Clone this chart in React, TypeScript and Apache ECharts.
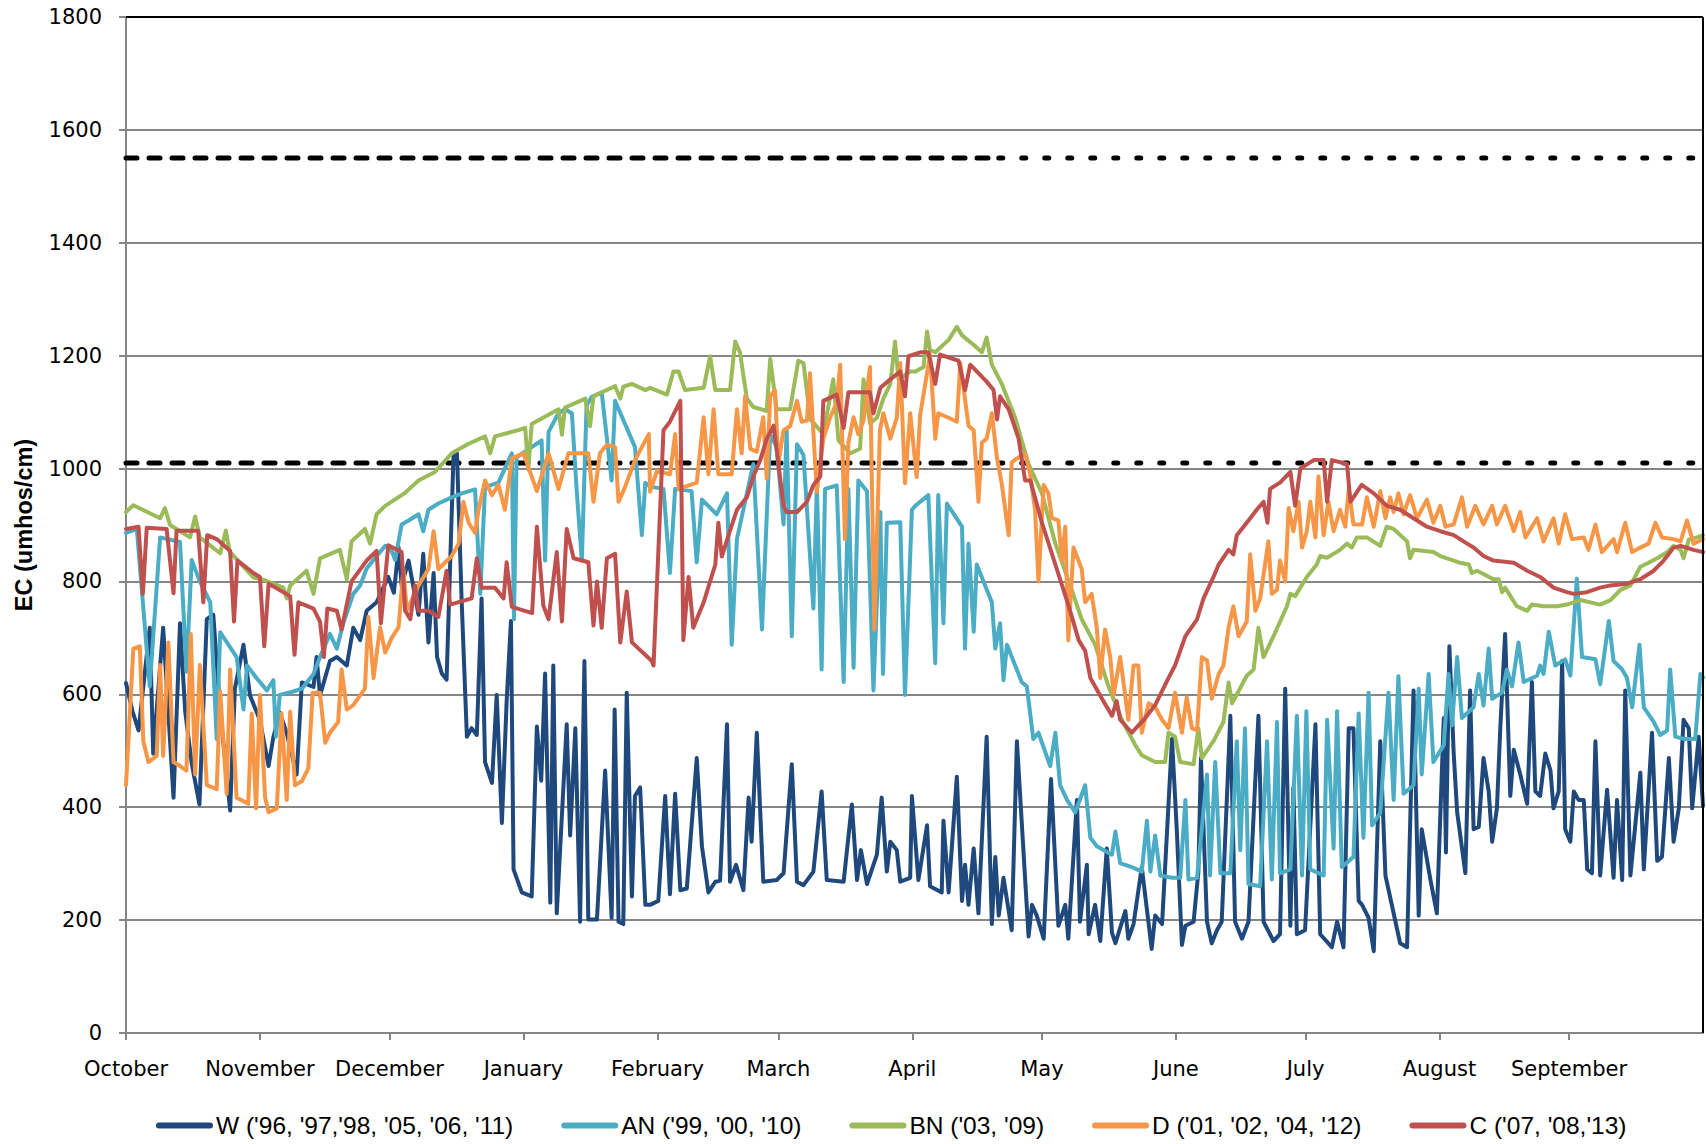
import React, { useEffect, useRef } from "react";
import * as echarts from "echarts";

const MONTHS = ["October", "November", "December", "January", "February", "March", "April", "May", "June", "July", "August", "September"];
const MONTH_START_DAYS = [0, 31, 61, 92, 123, 151, 182, 212, 243, 273, 304, 334];

const SERIES_NAMES = ["W ('96, '97,'98, '05, '06, '11)", "AN ('99, '00, '10)", "BN ('03, '09)", "D ('01, '02, '04, '12)", "C ('07, '08,'13)"];
const SERIES_COLORS = ["#1F497D", "#4BACC6", "#9BBB59", "#F79646", "#C0504D"];

const LIMIT_UPPER = 1550;
const LIMIT_LOWER = 1010;
const LIMIT_SWITCH_DAY = 202;
const YEAR_END_DAY = 365;

const W_DATA: [number, number][] = [
  [0, 620], [1.5, 570], [2.9, 536], [5.5, 718], [6.3, 495], [8.6, 718], [11, 417], [12.5, 726], [13.7, 570], [15.2, 478], [17, 405], [18.7, 733], [20.2, 741], [21.8, 570], [24.1, 394], [25.2, 610], [27.2, 688], [28.7, 598], [31, 554], [33, 473], [34.1, 524], [35.6, 568], [37.2, 531], [39.5, 458], [40.7, 621], [43.4, 613], [44.1, 666], [44.9, 598], [47.2, 659], [48.8, 666], [51.1, 651], [52.6, 718], [54.2, 696], [55.7, 748], [58, 763], [60.7, 808],
  [62, 780], [63.1, 860], [63.8, 793], [65.4, 837], [67.7, 741], [68.8, 849], [70, 692], [71.2, 815], [72, 666], [73.1, 637], [74.2, 626], [75.8, 1023], [76.6, 1027], [77.7, 763], [78.9, 525], [80, 540], [81.2, 528], [82.3, 770], [83.1, 480], [84.7, 443], [85.8, 599], [87, 372], [88.1, 588], [89.1, 730], [89.7, 290], [91.6, 249], [93.9, 242], [95.1, 543], [96.1, 447], [97, 637], [98.2, 231], [98.9, 651], [99.7, 212], [102, 547], [102.8, 350], [104, 540], [105.1, 197], [106.1, 659], [107, 201], [109, 201], [110.9, 465], [112.4, 204], [113.1, 573], [114, 197], [115.1, 193], [115.9, 603], [117.1, 242], [117.8, 420], [119, 435], [120.2, 227],
  [121.3, 227], [123.2, 234], [124.8, 420], [125.9, 246], [127.1, 424], [128.3, 253], [129.8, 256], [132.1, 487], [133.3, 331], [134.8, 249], [136.4, 268], [137.5, 270], [139.1, 547], [139.8, 268], [141.2, 298], [142.9, 253], [144.1, 417], [144.8, 339], [146, 532], [147.5, 268], [150.6, 271], [152.2, 283], [154.1, 476], [155.3, 268], [156.8, 262], [159.1, 286], [161, 428], [162.2, 271], [166.1, 268], [168, 405], [169.2, 271], [170.1, 324], [171.5, 264], [173.8, 316], [174.9, 417], [176.1, 286], [176.9, 339], [178.4, 324], [179.2, 268], [181.5, 275], [181.9, 420],
  [183.4, 271], [185.4, 368], [186.1, 260], [188.8, 249], [189.2, 376], [190.4, 249], [192.3, 454], [193.5, 234], [194.2, 298], [195, 227], [196.2, 327], [197.3, 212], [199.2, 525], [200.4, 193], [201.2, 312], [202, 208], [203.1, 275], [205, 182], [206.2, 517], [208.9, 171], [209.7, 227], [210.8, 208], [212.4, 167], [214.1, 450], [215.8, 190], [217.4, 227], [218.1, 167], [220.1, 413], [220.8, 197], [222.4, 298], [222.8, 175], [224.3, 227], [225.5, 163], [227, 327], [228.2, 178], [229, 159], [231.3, 216], [232, 167], [233.2, 193], [235.1, 294], [237.4, 149], [238.2, 208], [239.8, 193], [242.1, 521], [243.2, 361], [244.4, 156],
  [245.2, 190], [247.1, 197], [248.2, 286], [248.8, 487], [250.2, 197], [251.3, 159], [252.5, 182], [253.6, 197], [255.6, 562], [256.7, 197], [258.3, 167], [259.8, 197], [262.1, 562], [263.3, 197], [265.6, 163], [267.1, 175], [268.3, 610], [269.5, 190], [270.2, 435], [271, 175], [272.9, 182], [275.3, 547], [276.4, 175], [279.1, 152], [280.3, 197], [281.8, 152], [283, 540], [284.1, 540], [285.3, 234], [286.1, 227], [287.6, 204], [288.8, 145], [290.3, 517], [291.5, 279], [294.9, 159], [296.5, 152], [298, 607], [299.2, 208], [299.9, 361], [301.9, 272], [303.4, 212], [305, 558], [305.5, 320], [306.3, 685],
  [307.3, 495], [308.1, 391], [310, 283], [311.1, 607], [311.9, 361], [313.1, 365], [314.2, 487], [315.4, 428], [316.2, 339], [317.3, 398], [318.1, 543], [319.2, 707], [320.4, 420], [321.2, 502], [322.7, 458], [324.3, 406], [325.4, 622], [326.2, 428], [327.3, 420], [328.5, 495], [329.7, 465], [330.4, 398], [331.6, 428], [332.4, 659], [333.1, 361], [334.3, 339], [335.1, 428], [336.2, 413], [337.4, 413], [338.2, 290], [339.3, 283], [340.1, 517], [341.2, 279], [342.8, 431], [344.3, 275], [345.1, 413], [346.3, 271], [347, 607], [348.2, 279], [350.5, 461], [351.3, 290], [353.2, 532], [354.4, 305], [355.5, 312], [357.1, 487], [358.2, 339], [359.4, 398], [360.5, 555], [361.7, 540], [362.5, 398], [364, 525], [365, 402],
];

const AN_DATA: [number, number][] = [
  [0, 886], [2.5, 893], [5.5, 614], [7.9, 878], [12.5, 870], [14, 640], [15.2, 838], [17.1, 800], [19.5, 763], [21, 521], [21.8, 710], [25.6, 666], [27.2, 573], [28, 651], [30.2, 629], [32.6, 607], [34.1, 625], [34.7, 525], [35.6, 599], [38.7, 605], [40.7, 610], [43.4, 636], [44.9, 666], [47.2, 707], [48.8, 681], [50.3, 726], [52.6, 778], [54.2, 793], [55.7, 823], [58, 845],
  [60, 863], [61.2, 860], [62.3, 838], [63.8, 901], [65.4, 908], [67.7, 919], [68.8, 889], [70, 927], [72.3, 938], [75.4, 949], [77.7, 956], [80.8, 963], [82, 778], [83.1, 967], [86.2, 975], [89.3, 1027], [89.8, 733], [90.4, 1020], [93.9, 1038], [96.2, 1050], [97, 837], [97.8, 1065], [100.1, 1098], [101.6, 1105], [103.2, 1098], [104.3, 963], [105.5, 837], [106.6, 1112], [107.8, 1127], [110.1, 1135], [112.4, 979], [113.2, 1120], [117.8, 1038], [119.4, 882], [120.2, 975],
  [121.3, 968], [124.4, 964], [125.9, 815], [127.1, 964], [130.9, 960], [132.1, 834], [133.3, 945], [136.7, 919], [139.1, 956], [140.2, 688], [141.4, 875], [143.7, 956], [145.2, 1008], [147.2, 715], [149.1, 1061], [150.6, 1038], [152.2, 901], [152.9, 1068], [154.1, 703], [155.3, 1043], [156.8, 1024], [159.1, 752], [159.9, 971], [161, 644], [161.8, 964], [164.5, 970], [166.1, 622], [167.2, 964], [168.4, 647], [169.5, 979], [171.5, 960], [173, 607], [174.6, 923], [175.2, 636], [176.1, 904], [179.2, 905], [180.3, 599], [181.9, 927],
  [182.7, 934], [185.7, 953], [187.3, 655], [188, 953], [189.2, 726], [190, 938], [193.5, 897], [194.2, 681], [195, 867], [196.2, 711], [196.9, 830], [200.4, 763], [201.2, 681], [202.3, 726], [203.1, 625], [203.9, 688], [207.3, 622], [208.5, 614], [210, 521], [211.2, 532], [213.9, 473], [215.1, 532], [216.2, 439], [217.8, 413], [219.7, 391], [222, 439], [223.2, 346], [224.7, 331], [228.2, 316], [229, 357], [230.1, 301], [232.8, 294], [235.1, 286], [236.3, 376], [237.1, 286], [238.2, 350], [239.4, 279], [242.1, 275],
  [244, 275], [245.2, 413], [245.9, 272], [247.9, 275], [250.2, 458], [250.9, 279], [252.1, 480], [253.3, 283], [255.6, 283], [257.1, 517], [257.9, 324], [259, 540], [259.8, 264], [262.5, 260], [264.1, 517], [265.2, 272], [266.4, 551], [267.1, 283], [269.5, 290], [271, 562], [272.2, 279], [273.2, 570], [274.1, 290], [277.2, 279], [278, 555], [279.5, 327], [280.3, 570], [281.4, 294], [284.1, 312], [285.3, 566], [286.4, 346], [287.6, 603], [288.4, 368], [290.3, 390], [292.2, 603], [293.4, 413], [294.5, 632], [295.7, 424], [298, 439], [299.2, 610], [299.9, 458], [301.5, 636], [302.6, 480], [305, 510],
  [306.1, 636], [306.9, 545], [308.1, 666], [309.2, 558], [311.9, 577], [313.1, 636], [314.2, 580], [315.4, 681], [316.2, 592], [318.5, 603], [319.6, 644], [320.8, 614], [322.3, 692], [323.5, 622], [326.6, 633], [327.3, 651], [328.1, 636], [329.3, 711], [330.8, 651], [333.1, 662], [334.3, 633], [335.8, 805], [337, 666], [340.1, 662], [341.2, 618], [343.2, 730], [344.3, 659], [346.3, 644], [347.4, 629], [348.6, 577], [350.3, 688], [351.3, 577], [353.6, 551], [355.1, 528], [356.7, 536], [357.4, 644], [358.6, 525], [360.5, 521], [363.2, 521], [364.4, 636], [365, 630],
];

const BN_DATA: [number, number][] = [
  [0, 923], [1.7, 935], [7.9, 912], [9, 930], [10.2, 900], [14.8, 878], [16, 915], [17.1, 878], [21.8, 850], [23.1, 890], [24, 853], [29.5, 807], [31.8, 803], [36.4, 789], [37.2, 770], [38, 793], [41.8, 819], [43.4, 778], [44.9, 841], [49.5, 856], [51.1, 804], [52.2, 871], [55.3, 893], [56.5, 867], [58, 919],
  [60, 934], [64.6, 957], [67.7, 979], [71.5, 994], [75.4, 1027], [79.3, 1044], [83.1, 1057], [84.3, 1027], [85.4, 1057], [90.8, 1068], [92.4, 1072], [93.1, 998], [93.9, 1079], [100.1, 1105], [100.9, 1060], [101.6, 1108], [106.3, 1124], [107.4, 1075], [108.2, 1128], [113.2, 1146], [114.4, 1124], [115.1, 1145], [117.1, 1150], [120.2, 1139],
  [121.3, 1143], [125.2, 1131], [126.7, 1172], [127.9, 1172], [129.4, 1139], [133.7, 1143], [135.2, 1199], [136.4, 1139], [139.8, 1139], [141, 1225], [142.1, 1206], [143.7, 1124], [145.2, 1109], [148.3, 1102], [149.1, 1194], [150.6, 1105], [153.7, 1105], [155.6, 1191], [156.8, 1187], [158.4, 1087], [161.4, 1061], [163.7, 1158], [164.9, 1050], [167.6, 1027], [169.9, 1035], [170.7, 1158], [172.2, 1080], [173.8, 1090], [175.3, 1124], [176.9, 1150], [178, 1225], [178.8, 1158], [181.5, 1172],
  [182.7, 1172], [184.6, 1180], [185.4, 1243], [186.1, 1210], [187.3, 1206], [190.4, 1228], [192.3, 1251], [193.5, 1236], [196.5, 1217], [198.1, 1206], [199.2, 1232], [200.4, 1184], [202.7, 1150], [205.8, 1090], [208.9, 1008], [212, 956], [215.1, 867], [218.2, 800], [221.2, 733], [224.3, 688], [227.4, 614], [230.5, 555], [233.6, 510], [235.1, 492], [238.2, 480], [240.5, 480], [241.3, 532], [242.8, 525], [244, 480],
  [247.1, 476], [248.2, 540], [249, 487], [251.7, 517], [254, 551], [255.2, 621], [256, 584], [259.4, 633], [261, 644], [262.1, 718], [263.3, 666], [265.6, 703], [268.7, 756], [269.5, 778], [270.6, 774], [273.3, 808], [275.6, 830], [276.4, 845], [278, 842], [281, 856], [282.6, 867], [283.7, 860], [284.9, 878], [287.2, 878], [290.3, 863], [291.8, 897], [293.4, 893], [296.5, 871], [297.2, 841], [298, 856], [302.6, 852], [304.2, 845],
  [307.3, 837], [308.8, 833], [310.8, 830], [311.5, 815], [312.7, 819], [316.5, 804], [317.7, 804], [318.5, 781], [319.2, 789], [321.9, 756], [324.3, 748], [325.4, 759], [328.1, 756], [331.2, 756], [333.5, 759], [336.6, 767], [338.9, 763], [341.2, 759], [343.6, 767], [345.9, 785], [348.2, 793], [350.5, 826], [352.4, 833], [354.4, 841], [356.7, 852], [358.2, 863], [359.8, 856], [360.5, 841], [361.7, 874], [363.6, 878], [365, 882],
];

const D_DATA: [number, number][] = [
  [0, 439], [1.7, 681], [3.2, 685], [4, 517], [5.2, 480], [7.1, 491], [7.9, 652], [8.6, 491], [9.8, 692], [11, 480], [12.5, 473], [14, 465], [15, 707], [16, 458], [17.1, 652], [18.7, 439], [21, 432], [21.8, 606], [23.3, 424], [24.1, 644], [25.6, 417], [28.3, 406], [29.1, 566], [30.1, 398], [31, 599], [32.2, 417], [33, 391], [34.9, 398], [36, 566], [37.2, 413], [38, 569], [39.1, 439], [40.7, 446], [42.2, 469], [43.2, 603], [44.9, 603], [46.1, 514], [47.2, 532], [49.1, 551], [49.9, 644], [51.1, 573], [52.6, 581], [55.3, 610], [56.1, 737], [57.3, 629], [58.8, 719], [60, 674],
  [61.5, 700], [63.1, 719], [64.2, 822], [65, 748], [67.7, 793], [70, 822], [71.2, 889], [72.3, 822], [75.4, 845], [77, 867], [78.1, 941], [79.3, 904], [80.8, 886], [81.6, 927], [83.1, 979], [84.7, 953], [86.2, 971], [87.7, 927], [89.3, 1018], [92, 1027], [95.1, 960], [97.8, 1027], [100.1, 964], [102.4, 1027], [107, 1027], [108.2, 941], [109.7, 1027], [111.3, 1042], [113.2, 1038], [114, 941], [115.5, 967], [117.8, 1015], [121, 1061],
  [121.3, 959], [122.9, 996], [125.9, 990], [127.1, 1061], [127.9, 964], [132.1, 975], [133.7, 1091], [134.8, 990], [136, 1105], [137.1, 990], [140.2, 990], [141.4, 1105], [142.5, 1027], [143.3, 1128], [144.5, 1035], [146, 1030], [147.5, 1091], [148.3, 982], [149.1, 1128], [150.2, 1139], [151, 1010], [152.2, 1068], [153.7, 1075], [155.3, 1120], [156.4, 1083], [157.6, 1085], [158.3, 1169], [159.9, 959], [161.4, 1053], [163, 1091], [164.5, 1117], [165.3, 1184], [166.4, 875], [167.2, 1046], [168.4, 1091], [169.5, 1061], [170.7, 1085], [172.2, 1180], [173.2, 715], [174.5, 1068], [175.3, 1098], [176.9, 1053], [178.4, 1090], [179.2, 1187], [180.3, 974], [181.5, 1098], [183, 985],
  [183.8, 1094], [186.1, 1202], [187.3, 1053], [188, 1098], [190.4, 1090], [192.3, 1083], [193.1, 1187], [195, 1076], [196.2, 1068], [197.3, 941], [198.1, 1046], [199.2, 1053], [200.4, 1098], [201.6, 1018], [202.7, 973], [204.3, 882], [205, 1011], [206.2, 1018], [208.1, 1026], [209.3, 989], [210.4, 927], [211.2, 800], [212.4, 971], [213.5, 956], [214.3, 912], [215.8, 908], [216.6, 837], [217.4, 897], [218.1, 696], [219.3, 860], [221.2, 822], [222, 763], [223.5, 778], [224.7, 718], [225.5, 629], [226.6, 715], [227.8, 666], [228.6, 599], [230.1, 666], [232, 555], [233.2, 651], [234.3, 651], [235.1, 532], [236.7, 584], [238.2, 577], [239.8, 555], [241.3, 540], [242.8, 603], [244.4, 532],
  [245.5, 595], [246.7, 540], [247.9, 536], [249, 666], [250.2, 660], [251.3, 592], [252.9, 636], [254, 651], [255.2, 718], [256.3, 756], [257.5, 703], [259.4, 729], [260.2, 848], [261.4, 748], [262.5, 770], [264.4, 871], [265.2, 778], [266.4, 785], [267.1, 837], [268.3, 800], [269.1, 930], [270.2, 889], [271.4, 941], [272.2, 860], [273.3, 889], [274.1, 941], [275.3, 878], [276, 986], [277.2, 882], [278.3, 941], [279.5, 889], [281, 927], [282.2, 897], [283, 964], [284.1, 901], [286.1, 901], [287.2, 949], [288.8, 897], [290.3, 960], [291.5, 912], [292.6, 949], [293.4, 923], [294.5, 956], [295.7, 919], [297.2, 953], [298.8, 912], [301.1, 945], [302.6, 904], [304.2, 934],
  [305.4, 897], [307.3, 901], [309.2, 949], [310.4, 897], [312.3, 934], [314.2, 901], [316.2, 934], [317.3, 901], [319.2, 934], [321.2, 889], [322.7, 923], [323.9, 878], [326.6, 912], [328.1, 871], [330.4, 912], [331.6, 867], [333.1, 919], [334.7, 875], [337.4, 878], [338.5, 856], [340.1, 901], [341.6, 852], [344.3, 875], [345.1, 852], [347, 904], [348.6, 852], [350.5, 860], [352.4, 867], [354, 904], [355.5, 878], [358.2, 875], [359.8, 871], [361.3, 908], [362.8, 867], [365, 875],
];

const C_DATA: [number, number][] = [
  [0, 893], [2.9, 897], [3.9, 778], [4.8, 895], [9.4, 893], [11, 779], [11.7, 890], [16.7, 890], [17.9, 763], [18.8, 882], [21, 875], [24.1, 854], [25, 729], [25.8, 837], [29.5, 815], [31, 808], [32, 685], [33, 796], [38, 774], [39, 670], [39.9, 763], [43.4, 752], [44.9, 729], [45.8, 666], [46.6, 752], [48.8, 748], [49.9, 715], [52.2, 800], [55.7, 837], [58, 854], [59, 726], [60.7, 864],
  [63.8, 852], [64.6, 748], [65.8, 733], [66.9, 793], [67.7, 748], [70, 748], [72.3, 737], [74.2, 819], [75, 759], [80, 770], [81.2, 841], [82.3, 789], [85.4, 789], [87.4, 770], [88.1, 834], [89.3, 755], [94, 744], [95.1, 897], [96.6, 757], [97.8, 733], [99.7, 852], [100.9, 729], [102, 893], [103.6, 841], [107, 834], [108.2, 722], [109, 800], [110.1, 718], [111.3, 841], [113.2, 849], [114.4, 692], [115.9, 782], [117.1, 692], [121.7, 659],
  [122.1, 651], [124.4, 1068], [125.9, 1083], [128.3, 1120], [129, 696], [130.2, 808], [131.3, 718], [133.7, 763], [136.4, 830], [137.1, 904], [137.9, 844], [139.8, 890], [141.4, 927], [143.7, 949], [145.2, 986], [146.8, 1015], [148.3, 1053], [149.9, 1076], [152.2, 934], [152.9, 923], [155.3, 923], [157.6, 941], [159.1, 971], [160.7, 986], [161.4, 1120], [164.5, 1131], [166.1, 1072], [167.2, 1135], [172.2, 1135], [173, 1098], [174.6, 1143], [176.9, 1158], [179.2, 1172], [180.3, 1128], [181.1, 1199], [183.8, 1206],
  [185.7, 1206], [187.3, 1150], [188.4, 1202], [192.7, 1191], [194.2, 1139], [195.4, 1184], [199.2, 1154], [200.8, 1139], [201.6, 1087], [202.3, 1128], [204.3, 1105], [206.6, 1053], [208.1, 979], [209.3, 979], [212, 904], [215.1, 830], [218.2, 756], [220.5, 696], [222, 677], [223.2, 629], [225.9, 592], [228.2, 562], [229.3, 588], [230.1, 555], [232.8, 532], [235.9, 558], [238.2, 581], [241.3, 629], [242.8, 651], [245.2, 703],
  [247.9, 733], [249.4, 770], [251.7, 808], [252.9, 830], [255.2, 856], [256.3, 848], [257.1, 882], [259.4, 904], [261.7, 927], [263.3, 941], [264.2, 904], [264.8, 964], [267.1, 975], [269.5, 994], [270.6, 934], [271.8, 1000], [274.9, 1015], [277.2, 1015], [278, 941], [279.1, 1015], [282.6, 1008], [283.4, 941], [286, 971], [288.8, 956], [291.8, 934], [294.9, 927], [298, 912], [301.1, 897], [304.2, 889],
  [307.3, 882], [310.4, 867], [311.9, 860], [314.2, 845], [316.5, 837], [321.2, 833], [324.3, 819], [327.3, 808], [330.4, 789], [333.5, 781], [335.1, 778], [338.1, 781], [341.2, 789], [343.6, 793], [347.4, 796], [350.5, 804], [353.6, 819], [355.9, 837], [358.2, 860], [359.8, 863], [362.8, 856], [365, 852],
];

const SERIES_DATA = [W_DATA, AN_DATA, BN_DATA, D_DATA, C_DATA];

const AXIS_GRAY = "#868686";
const TICK_FONT = "'DejaVu Sans', Verdana, sans-serif";
const LEGEND_FONT = "'Liberation Sans', Arial, sans-serif";
const LEGEND_ICON = "path://M3,0 L54,0 A3,3 0 0 1 54,6 L3,6 A3,3 0 0 1 3,0 Z";

function limitSeries(value: number, from: number, to: number, dash: number[]) {
  return {
    type: "line",
    data: [[from, value], [to, value]],
    symbol: "none",
    showSymbol: false,
    silent: true,
    lineStyle: { color: "#000", width: 5, type: dash, cap: "round" },
    z: 1,
  };
}

export default function App() {
  const ref = useRef<HTMLDivElement>(null);

  useEffect(() => {
    if (!ref.current) return;
    const chart = echarts.init(ref.current, null, { renderer: "svg" });

    const dataSeries = SERIES_NAMES.map((name, i) => ({
      type: "line",
      name,
      data: SERIES_DATA[i],
      symbol: "none",
      showSymbol: false,
      silent: true,
      lineStyle: { color: SERIES_COLORS[i], width: 4, join: "round", cap: "round" },
      itemStyle: { color: SERIES_COLORS[i] },
      emphasis: { disabled: true },
      z: 2,
    }));

    chart.setOption({
      animation: false,
      backgroundColor: "#ffffff",
      grid: { left: 126, right: 3, top: 17, bottom: 111, containLabel: false },
      legend: {
        data: SERIES_NAMES.map((name) => ({ name, icon: LEGEND_ICON })),
        left: 151,
        top: 1108,
        itemWidth: 57,
        itemHeight: 6,
        itemGap: 48,
        textStyle: { fontFamily: LEGEND_FONT, fontSize: 24.5, color: "#000", padding: [0, 0, 0, -2] },
      },
      xAxis: {
        type: "value",
        min: 0,
        max: YEAR_END_DAY,
        axisLine: { show: true, onZero: false, lineStyle: { color: AXIS_GRAY, width: 2 } },
        axisTick: { show: true, customValues: MONTH_START_DAYS, length: 7, lineStyle: { color: AXIS_GRAY, width: 2 } },
        axisLabel: {
          customValues: MONTH_START_DAYS,
          formatter: (v: number) => {
            const idx = MONTH_START_DAYS.indexOf(Math.round(v));
            return idx >= 0 ? MONTHS[idx] : "";
          },
          fontFamily: TICK_FONT,
          fontSize: 21,
          color: "#000",
          margin: 25,
        },
        splitLine: { show: false },
      },
      yAxis: {
        type: "value",
        min: 0,
        max: 1800,
        interval: 200,
        name: "EC (umhos/cm)",
        nameLocation: "middle",
        nameGap: 90,
        nameTextStyle: { fontFamily: LEGEND_FONT, fontWeight: "bold", fontSize: 23.5, color: "#000" },
        axisLine: { show: true, onZero: false, lineStyle: { color: AXIS_GRAY, width: 2 } },
        axisTick: { show: true, length: 7, lineStyle: { color: AXIS_GRAY, width: 2 } },
        axisLabel: { fontFamily: TICK_FONT, fontSize: 21, color: "#000", margin: 24, formatter: (v: number) => String(v) },
        splitLine: { show: true, lineStyle: { color: AXIS_GRAY, width: 2 } },
      },
      graphic: [
        { type: "line", shape: { x1: 126, y1: 17, x2: 1703, y2: 17 }, style: { stroke: "#000", lineWidth: 2 }, z: 100, silent: true },
        { type: "line", shape: { x1: 1703, y1: 17, x2: 1703, y2: 1033 }, style: { stroke: "#000", lineWidth: 2 }, z: 100, silent: true },
      ],
      series: [
        limitSeries(LIMIT_UPPER, 0, LIMIT_SWITCH_DAY, [11, 12]),
        limitSeries(LIMIT_UPPER, LIMIT_SWITCH_DAY, YEAR_END_DAY, [4, 19]),
        limitSeries(LIMIT_LOWER, 0, LIMIT_SWITCH_DAY, [11, 12]),
        limitSeries(LIMIT_LOWER, LIMIT_SWITCH_DAY, YEAR_END_DAY, [4, 19]),
        ...dataSeries,
      ],
    });

    return () => chart.dispose();
  }, []);

  return (
    <div
      ref={ref}
      style={{ position: "fixed", left: 0, top: 0, width: 1706, height: 1144, background: "#fff" }}
    />
  );
}
